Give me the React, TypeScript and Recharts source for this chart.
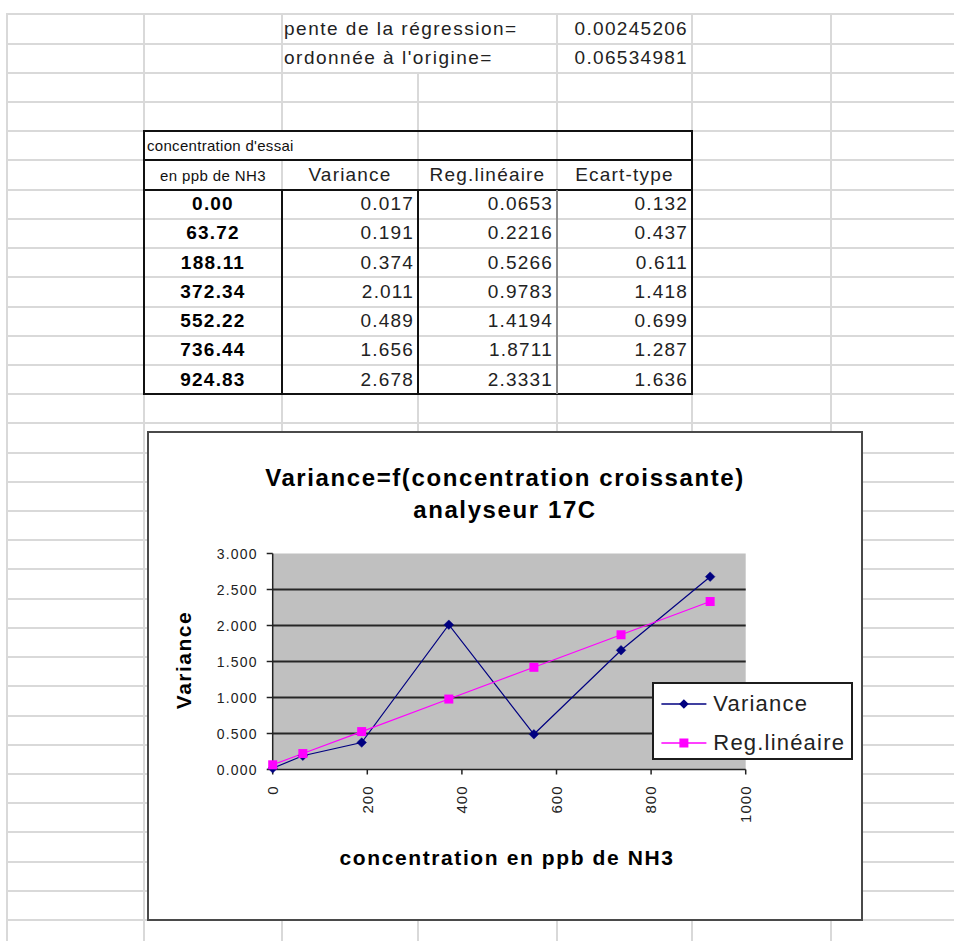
import React from 'react';
import { LineChart, Line, XAxis, YAxis, CartesianGrid, Legend } from 'recharts';

// Test concentrations (ppb NH3) and the measured / fitted values
const concentrations = [0, 63.72, 188.11, 372.34, 552.22, 736.44, 924.83];
const varianceValues = [0.017, 0.191, 0.374, 2.011, 0.489, 1.656, 2.678];
const regressionValues = [0.0653, 0.2216, 0.5266, 0.9783, 1.4194, 1.8711, 2.3331];
const stdDevValues = [0.132, 0.437, 0.611, 1.418, 0.699, 1.287, 1.636];

// Linear regression coefficients
const regressionSlope = 0.00245206;
const regressionIntercept = 0.06534981;

// Axis ticks
const xTicks = [0, 200, 400, 600, 800, 1000];
const yTicks = [0, 0.5, 1, 1.5, 2, 2.5, 3];
const gridValues = [0.5, 1, 1.5, 2, 2.5];

// Table headings and legend order
const tableHeaders = ['Variance', 'Reg.linéaire', 'Ecart-type'];
const seriesOrder = ['variance', 'reg'];

const FONT = '"Liberation Sans", Arial, Helvetica, sans-serif';

// Worksheet geometry
const ROW0 = 14.3;
const ROW_H = 29.22;
const rowY = (k: number) => ROW0 + ROW_H * k;
const COLS = [7, 144, 282, 418, 557, 692, 831];
const PAGE_W = 954;
const PAGE_H = 941;

const VARIANCE_COLOR = '#000080';
const REG_COLOR = '#ff00ff';

type CellProps = {
  x1: number;
  x2: number;
  y1: number;
  y2: number;
  align?: 'left' | 'right' | 'center';
  style?: React.CSSProperties;
  children?: React.ReactNode;
};

function Cell({ x1, x2, y1, y2, align = 'left', style, children }: CellProps) {
  return (
    <div
      style={{
        position: 'absolute',
        left: x1,
        top: y1,
        width: x2 - x1,
        height: y2 - y1,
        display: 'flex',
        alignItems: 'center',
        justifyContent: align === 'left' ? 'flex-start' : align === 'right' ? 'flex-end' : 'center',
        padding: '0 4px',
        boxSizing: 'border-box',
        whiteSpace: 'nowrap',
        fontSize: 19,
        letterSpacing: '1.2px',
        color: '#111',
        ...style,
      }}
    >
      {children}
    </div>
  );
}

function SheetGrid() {
  const hLines: number[] = [];
  for (let k = 0; rowY(k) < PAGE_H; k++) hLines.push(rowY(k));
  // vertical gridline segments; text overflowing into a neighbour cell hides the line
  const vSegments: [number, number, number][] = COLS.map((x) => {
    if (x === 418) return [x, rowY(2), PAGE_H];
    return [x, rowY(0), PAGE_H];
  });
  return (
    <>
      {hLines.map((y, i) => (
        <div
          key={`h${i}`}
          style={{ position: 'absolute', left: COLS[0] - 1, top: y - 1, width: PAGE_W - COLS[0] + 1, height: 2, background: '#d9d9d9' }}
        />
      ))}
      {vSegments.map(([x, y1, y2], i) => (
        <div
          key={`v${i}`}
          style={{ position: 'absolute', left: x - 1, top: y1 - 1, width: 2, height: y2 - y1 + 1, background: '#d9d9d9' }}
        />
      ))}
      {/* overflowing heading hides the column line inside the table's first row */}
      <div style={{ position: 'absolute', left: 280, top: rowY(4) + 1, width: 4, height: ROW_H - 2, background: '#fff' }} />
    </>
  );
}

function DataTable() {
  const top = rowY(4);
  const bottom = rowY(13);
  const left = 143.5;
  const right = 691.5;
  const black = '#111';
  const colEdges = [144, 282, 418, 557, 692];
  return (
    <>
      {/* outer frame */}
      <div
        style={{
          position: 'absolute',
          left: left - 1,
          top: top - 1,
          width: right - left + 2,
          height: bottom - top + 2,
          border: `2px solid ${black}`,
          boxSizing: 'border-box',
        }}
      />
      <div style={{ position: 'absolute', left, top: rowY(5) - 1, width: right - left, height: 2, background: black }} />
      <div style={{ position: 'absolute', left, top: rowY(6) - 1, width: right - left, height: 2, background: black }} />
      <div style={{ position: 'absolute', left: 281, top: rowY(6), width: 2, height: bottom - rowY(6), background: black }} />
      <div style={{ position: 'absolute', left: 417, top: rowY(6), width: 2, height: bottom - rowY(6), background: black }} />
      <div style={{ position: 'absolute', left: 556, top: rowY(6), width: 2, height: bottom - rowY(6), background: '#8c8c8c' }} />

      <Cell x1={144} x2={420} y1={rowY(4)} y2={rowY(5)} style={{ fontSize: 15, letterSpacing: '0.3px', padding: '0 3px' }}>
        concentration d'essai
      </Cell>
      <Cell x1={144} x2={282} y1={rowY(5)} y2={rowY(6)} align="center" style={{ fontSize: 15, letterSpacing: '0.4px' }}>
        en ppb de NH3
      </Cell>
      {tableHeaders.map((h, i) => (
        <Cell key={h} x1={colEdges[i + 1]} x2={colEdges[i + 2]} y1={rowY(5)} y2={rowY(6)} align="center" style={{ color: '#222' }}>
          {h}
        </Cell>
      ))}
      {concentrations.map((c, i) => (
        <React.Fragment key={c}>
          <Cell x1={144} x2={282} y1={rowY(6 + i)} y2={rowY(7 + i)} align="center" style={{ fontWeight: 700, color: '#000' }}>
            {c.toFixed(2)}
          </Cell>
          <Cell x1={282} x2={418} y1={rowY(6 + i)} y2={rowY(7 + i)} align="right" style={{ color: '#222' }}>
            {varianceValues[i].toFixed(3)}
          </Cell>
          <Cell x1={418} x2={557} y1={rowY(6 + i)} y2={rowY(7 + i)} align="right" style={{ color: '#222' }}>
            {regressionValues[i].toFixed(4)}
          </Cell>
          <Cell x1={557} x2={692} y1={rowY(6 + i)} y2={rowY(7 + i)} align="right" style={{ color: '#222' }}>
            {stdDevValues[i].toFixed(3)}
          </Cell>
        </React.Fragment>
      ))}
    </>
  );
}

const diamondPath = (cx: number, cy: number, r: number) =>
  `M${cx},${cy - r}L${cx + r},${cy}L${cx},${cy + r}L${cx - r},${cy}Z`;

const renderDiamond = (props: any) => {
  const { cx, cy, index } = props;
  if (cx == null || cy == null) return <g key={`vd-${index}`} />;
  return <path key={`vd-${index}`} d={diamondPath(cx, cy, 4.8)} fill={VARIANCE_COLOR} stroke={VARIANCE_COLOR} strokeWidth={0.5} />;
};

const renderSquare = (props: any) => {
  const { cx, cy, index } = props;
  if (cx == null || cy == null) return <g key={`rs-${index}`} />;
  return <rect key={`rs-${index}`} x={cx - 4.5} y={cy - 4.5} width={9} height={9} fill={REG_COLOR} />;
};

const XTick = (props: any) => {
  const { x, y, payload } = props;
  return (
    <text
      x={x}
      y={y}
      transform={`rotate(-90, ${x}, ${y})`}
      textAnchor="end"
      dy="0.36em"
      fill="#222"
      fontSize={15}
      fontFamily={FONT}
      style={{ letterSpacing: '1px' }}
    >
      {payload.value}
    </text>
  );
};

const YTick = (props: any) => {
  const { x, y, payload } = props;
  return (
    <text x={x} y={y} textAnchor="end" dy="0.36em" fill="#222" fontSize={14} fontFamily={FONT} style={{ letterSpacing: '1.2px' }}>
      {Number(payload.value).toFixed(3)}
    </text>
  );
};

const XTitle = () => (
  <text x={360} y={426} textAnchor="middle" dy="0.36em" fill="#000" fontSize={21} fontWeight={700} fontFamily={FONT} style={{ letterSpacing: '1.6px' }}>
    concentration en ppb de NH3
  </text>
);

const YTitle = () => (
  <text
    x={36}
    y={229}
    transform="rotate(-90, 36, 229)"
    textAnchor="middle"
    dy="0.36em"
    fill="#000"
    fontSize={21}
    fontWeight={700}
    fontFamily={FONT}
    style={{ letterSpacing: '1.5px' }}
  >
    Variance
  </text>
);

const LegendBox = (props: any) => {
  const payload = [...(props.payload || [])].sort(
    (a: any, b: any) => seriesOrder.indexOf(a.dataKey) - seriesOrder.indexOf(b.dataKey)
  );
  return (
    <div
      style={{
        width: 201,
        height: 78,
        boxSizing: 'border-box',
        border: '2px solid #1c1c1c',
        background: '#fff',
        position: 'relative',
        fontFamily: FONT,
      }}
    >
      {payload.map((entry: any, i: number) => (
        <div key={entry.value} style={{ position: 'absolute', left: 0, top: i === 0 ? 7.3 : 46, height: 26, display: 'flex', alignItems: 'center' }}>
          <svg width={59} height={26} style={{ display: 'block' }}>
            <line x1={7.4} x2={52.4} y1={13} y2={13} stroke={entry.color} strokeWidth={1.3} />
            {entry.dataKey === 'variance' ? (
              <path d={diamondPath(29.9, 13, 4.8)} fill={entry.color} />
            ) : (
              <rect x={25.4} y={8.5} width={9} height={9} fill={entry.color} />
            )}
          </svg>
          <span style={{ fontSize: 22, letterSpacing: '1.2px', color: '#222', lineHeight: '26px', whiteSpace: 'nowrap' }}>{entry.value}</span>
        </div>
      ))}
    </div>
  );
};

function VarianceChart() {
  const data = concentrations.map((c, i) => ({ conc: c, variance: varianceValues[i], reg: regressionValues[i] }));
  const W = 716;
  const H = 490;
  return (
    <div style={{ position: 'absolute', left: 147, top: 431, width: W, height: H, background: '#fff' }}>
      <LineChart width={W} height={H} data={data} margin={{ top: 122.5, right: 117.3, bottom: 41.5, left: 10 }}>
        <CartesianGrid vertical={false} horizontalValues={gridValues} fill="#c0c0c0" fillOpacity={1} stroke="#262626" strokeWidth={2} />
        <XAxis
          type="number"
          dataKey="conc"
          domain={[0, 1000]}
          ticks={xTicks}
          interval={0}
          height={110}
          tickSize={5}
          tickMargin={11}
          axisLine={{ stroke: '#222', strokeWidth: 1.5 }}
          tickLine={{ stroke: '#222', strokeWidth: 1.5 }}
          tick={XTick}
          label={XTitle}
        />
        <YAxis
          type="number"
          domain={[0, 3]}
          ticks={yTicks}
          interval={0}
          width={115.7}
          tickSize={6}
          tickMargin={9}
          axisLine={{ stroke: '#222', strokeWidth: 1.5 }}
          tickLine={{ stroke: '#222', strokeWidth: 1.5 }}
          tick={YTick}
          label={YTitle}
        />
        <Legend
          layout="vertical"
          align="center"
          verticalAlign="middle"
          content={LegendBox}
          wrapperStyle={{ left: 505.3, top: 250.7, width: 201, height: 78 }}
        />
        <Line
          type="linear"
          dataKey="variance"
          name="Variance"
          stroke={VARIANCE_COLOR}
          strokeWidth={1.2}
          dot={renderDiamond}
          activeDot={false}
          isAnimationActive={false}
        />
        <Line
          type="linear"
          dataKey="reg"
          name="Reg.linéaire"
          stroke={REG_COLOR}
          strokeWidth={1.2}
          dot={renderSquare}
          activeDot={false}
          isAnimationActive={false}
        />
      </LineChart>
      <div
        style={{
          position: 'absolute',
          left: 0,
          top: 31,
          width: W,
          textAlign: 'center',
          fontFamily: FONT,
          fontWeight: 700,
          fontSize: 24,
          letterSpacing: '1.6px',
          lineHeight: '32px',
          color: '#000',
          pointerEvents: 'none',
        }}
      >
        <div>Variance=f(concentration croissante)</div>
        <div>analyseur 17C</div>
      </div>
      <div
        style={{
          position: 'absolute',
          left: 0,
          top: 0,
          width: W,
          height: H,
          border: '2px solid #4a4a4a',
          boxSizing: 'border-box',
          pointerEvents: 'none',
        }}
      />
    </div>
  );
}

export default function App() {
  return (
    <div
      style={{
        position: 'absolute',
        left: 0,
        top: 0,
        width: PAGE_W,
        height: PAGE_H,
        background: '#fff',
        overflow: 'hidden',
        fontFamily: FONT,
      }}
    >
      <SheetGrid />
      <Cell x1={282} x2={557} y1={rowY(0)} y2={rowY(1)} style={{ padding: '0 2px', letterSpacing: '1.5px', color: '#222' }}>
        pente de la régression=
      </Cell>
      <Cell x1={557} x2={692} y1={rowY(0)} y2={rowY(1)} align="right" style={{ letterSpacing: '1.3px', color: '#222' }}>
        {regressionSlope.toFixed(8)}
      </Cell>
      <Cell x1={282} x2={557} y1={rowY(1)} y2={rowY(2)} style={{ padding: '0 2px', letterSpacing: '1.5px', color: '#222' }}>
        ordonnée à l'origine=
      </Cell>
      <Cell x1={557} x2={692} y1={rowY(1)} y2={rowY(2)} align="right" style={{ letterSpacing: '1.3px', color: '#222' }}>
        {regressionIntercept.toFixed(8)}
      </Cell>
      <DataTable />
      <VarianceChart />
    </div>
  );
}
